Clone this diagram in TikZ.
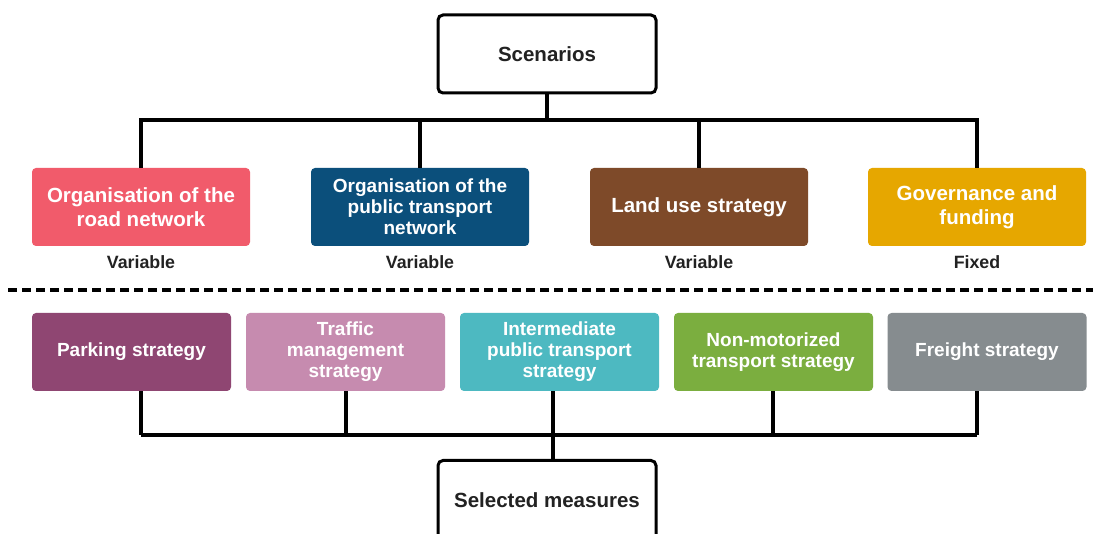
\documentclass[tikz,border=0pt]{standalone}
\usepackage{fontspec}
\setmainfont{Liberation Sans}
\definecolor{cRoad}{HTML}{F15B6B}
\definecolor{cPT}{HTML}{0B4F7B}
\definecolor{cLand}{HTML}{7E4A29}
\definecolor{cGov}{HTML}{E6A700}
\definecolor{cPark}{HTML}{8F4672}
\definecolor{cTraf}{HTML}{C68BAF}
\definecolor{cInt}{HTML}{4DB9C1}
\definecolor{cNon}{HTML}{7BAE3F}
\definecolor{cFre}{HTML}{868C8F}
\definecolor{cText}{HTML}{222222}
\begin{document}
\begin{tikzpicture}[x=1pt,y=-1pt,
  colbox/.style={rounded corners=4pt, minimum width=218pt, minimum height=78pt,
    text=white, font=\bfseries\fontsize{20.5}{24}\selectfont, align=center, inner sep=0pt},
  lowbox/.style={colbox, minimum width=199pt, font=\bfseries\fontsize{19}{21}\selectfont},
  outbox/.style={draw=black, line width=3pt, rounded corners=5pt, fill=white,
    minimum width=218pt, minimum height=78pt, text=cText,
    font=\bfseries\fontsize{20.5}{24}\selectfont, inner sep=0pt},
  tag/.style={text=cText, font=\bfseries\fontsize{17.8}{20}\selectfont, inner sep=0pt},
  link/.style={draw=black, line width=3.2pt}]
\useasboundingbox (0,0) rectangle (1093,534);
\clip (0,0) rectangle (1093,534);
\fill[white] (0,0) rectangle (1093,534);
% top
\node[outbox] (sc) at (547,54) {Scenarios};
\node[colbox, fill=cRoad] (t1) at (141,207) {Organisation of the\\road network};
\node[colbox, fill=cPT, font=\bfseries\fontsize{19}{21}\selectfont] (t2) at (420,207) {Organisation of the\\public transport\\network};
\node[colbox, fill=cLand] (t3) at (699,207) {Land use strategy};
\node[colbox, fill=cGov] (t4) at (977,207) {Governance and\\funding};
\node[tag] (v1) at (141,262) {Variable};
\node[tag] (v2) at (420,262) {Variable};
\node[tag] (v3) at (699,262) {Variable};
\node[tag] (v4) at (977,262) {Fixed};
\coordinate (j1) at (547,120);
\draw[link] (sc.south) -- (j1);
\draw[link] (t1.north) |- (j1) -| (t4.north);
\draw[link] (t2.north) -- (t2.north |- j1);
\draw[link] (t3.north) -- (t3.north |- j1);
% divider
\coordinate (dl) at (8,290);
\coordinate (dr) at (1093,290);
\draw[line width=3.2pt, dash pattern=on 9pt off 5pt] (dl) -- (dr);
% bottom
\node[lowbox, fill=cPark] (b1) at (131.5,352) {Parking strategy};
\node[lowbox, fill=cTraf] (b2) at (345.5,352) {Traffic\\management\\strategy};
\node[lowbox, fill=cInt] (b3) at (559.5,352) {Intermediate\\public transport\\strategy};
\node[lowbox, fill=cNon] (b4) at (773.5,352) {Non-motorized\\transport strategy};
\node[lowbox, fill=cFre] (b5) at (987,352) {Freight strategy};
\coordinate (s1) at (141,435);
\coordinate (s2) at (346,435);
\coordinate (s3) at (553,435);
\coordinate (s4) at (773,435);
\coordinate (s5) at (977,435);
\node[outbox, minimum height=100pt, anchor=north] (sm) at (547,459) {};
\node[text=cText, font=\bfseries\fontsize{20.5}{24}\selectfont, inner sep=0pt] (smt) at (547,500) {Selected measures};
\draw[link] (s1 |- b1.south) -- (s1);
\draw[link] (s2 |- b2.south) -- (s2);
\draw[link] (s3 |- b3.south) -- (s3);
\draw[link] (s4 |- b4.south) -- (s4);
\draw[link] (s5 |- b5.south) -- (s5);
\draw[link] (s1) -- (s5);
\draw[link] (s3) -- (s3 |- sm.north);
\end{tikzpicture}
\end{document}
